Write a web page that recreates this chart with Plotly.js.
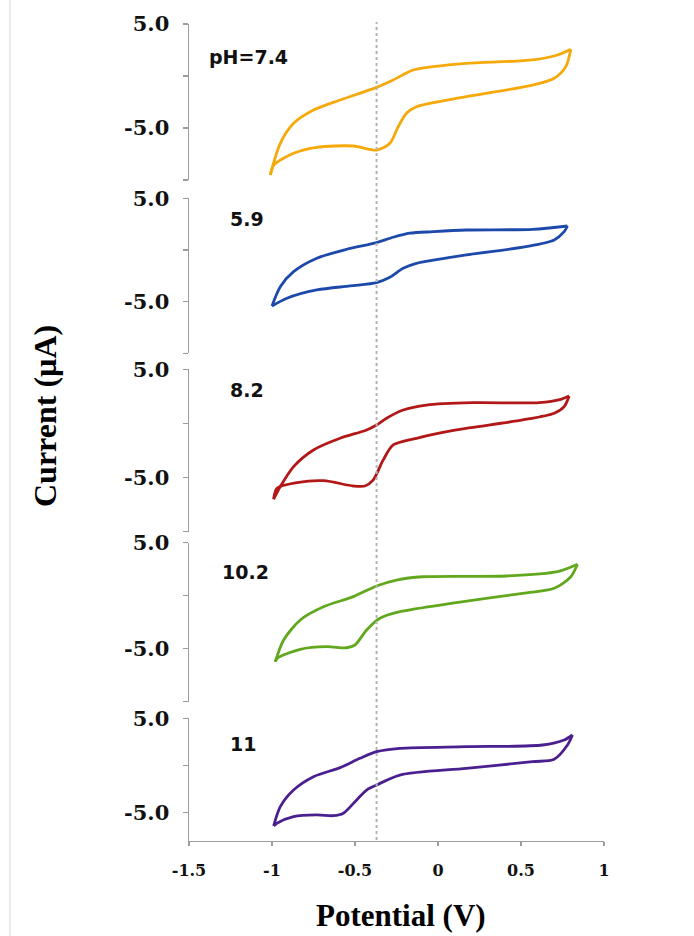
<!DOCTYPE html>
<html>
<head>
<meta charset="utf-8">
<script src="https://cdn.plot.ly/plotly-3.0.1.min.js"></script>
<style>html,body{margin:0;padding:0;background:#fff;}#chart{width:694px;height:936px;}</style>
</head>
<body>
<div id="chart"></div>
<script>
// ---- data (Potential in V, Current in µA) ----
const panelLabels = ["pH=7.4", "5.9", "8.2", "10.2", "11"];
const xTickVals = [-1.5, -1, -0.5, 0, 0.5, 1];
const xTickText = ["-1.5", "-1", "-0.5", "0", "0.5", "1"];
const yTickVals = [5, 0, -5, -10];
const yTickText = ["5.0", "", "-5.0", ""];
const markerPotential = -0.37;

// pH 7.4
const ph74_fwd_x = [-1.01, -0.95, -0.87, -0.75, -0.59, -0.37, -0.27, -0.15, -0.03, 0.17, 0.57, 0.72, 0.80];
const ph74_fwd_y = [-9.52, -6.47, -4.55, -3.27, -2.31, -1.09, -0.38, 0.58, 0.90, 1.22, 1.54, 2.02, 2.57];
const ph74_rev_x = [0.80, 0.77, 0.70, 0.57, 0.17, -0.13, -0.19, -0.24, -0.29, -0.37, -0.51, -0.73, -0.87, -0.99, -1.01];
const ph74_rev_y = [2.57, 0.90, -0.22, -0.87, -1.99, -2.95, -3.59, -4.88, -6.47, -7.12, -6.73, -6.86, -7.43, -8.56, -9.52];

// pH 5.9
const ph59_fwd_x = [-1.00, -0.95, -0.87, -0.73, -0.55, -0.37, -0.27, -0.17, -0.03, 0.17, 0.57, 0.78];
const ph59_fwd_y = [-5.42, -3.55, -2.10, -0.80, 0.07, 0.71, 1.23, 1.62, 1.77, 1.93, 2.00, 2.32];
const ph59_rev_x = [0.78, 0.76, 0.70, 0.53, 0.17, -0.13, -0.21, -0.29, -0.37, -0.53, -0.73, -0.91, -1.00];
const ph59_rev_y = [2.32, 1.77, 0.97, 0.32, -0.48, -1.29, -1.77, -2.64, -3.16, -3.48, -3.87, -4.67, -5.42];

// pH 8.2
const ph82_fwd_x = [-0.99, -0.95, -0.87, -0.75, -0.59, -0.43, -0.37, -0.31, -0.21, -0.07, 0.21, 0.61, 0.74, 0.79];
const ph82_fwd_y = [-7.00, -5.84, -3.99, -2.45, -1.37, -0.60, -0.14, 0.48, 1.24, 1.70, 1.92, 1.92, 2.23, 2.53];
const ph82_rev_x = [0.79, 0.76, 0.70, 0.51, 0.11, -0.13, -0.27, -0.33, -0.39, -0.44, -0.51, -0.69, -0.85, -0.97, -0.99];
const ph82_rev_y = [2.53, 1.55, 0.94, 0.32, -0.60, -1.37, -1.99, -3.37, -5.22, -5.78, -5.78, -5.29, -5.47, -5.99, -7.00];

// pH 10.2
const ph102_fwd_x = [-0.98, -0.93, -0.83, -0.69, -0.51, -0.37, -0.25, -0.09, 0.41, 0.72, 0.84];
const ph102_fwd_y = [-6.23, -4.18, -2.29, -1.04, -0.09, 0.92, 1.48, 1.79, 1.86, 2.26, 2.96];
const ph102_rev_x = [0.84, 0.80, 0.70, 0.51, 0.11, -0.23, -0.35, -0.43, -0.50, -0.55, -0.67, -0.83, -0.97, -0.98];
const ph102_rev_y = [2.96, 1.79, 0.70, 0.23, -0.66, -1.51, -2.13, -3.24, -4.65, -4.91, -4.81, -5.06, -5.91, -6.23];

// pH 11
const ph11_fwd_x = [-0.99, -0.95, -0.87, -0.75, -0.59, -0.47, -0.37, -0.23, 0.17, 0.63, 0.76, 0.81];
const ph11_fwd_y = [-6.41, -4.36, -2.60, -1.19, -0.23, 0.76, 1.46, 1.82, 1.99, 2.17, 2.70, 3.23];
const ph11_rev_x = [0.81, 0.78, 0.70, 0.57, 0.17, -0.23, -0.37, -0.43, -0.49, -0.57, -0.63, -0.73, -0.87, -0.97, -0.99];
const ph11_rev_y = [3.23, 2.17, 0.66, 0.40, -0.30, -1.01, -2.07, -2.60, -3.65, -5.06, -5.32, -5.24, -5.42, -6.12, -6.41];

const series = [
  {fx: ph74_fwd_x, fy: ph74_fwd_y, rx: ph74_rev_x, ry: ph74_rev_y, color: "#F5A90A"},
  {fx: ph59_fwd_x, fy: ph59_fwd_y, rx: ph59_rev_x, ry: ph59_rev_y, color: "#1D4AAA"},
  {fx: ph82_fwd_x, fy: ph82_fwd_y, rx: ph82_rev_x, ry: ph82_rev_y, color: "#B21818"},
  {fx: ph102_fwd_x, fy: ph102_fwd_y, rx: ph102_rev_x, ry: ph102_rev_y, color: "#62A81E"},
  {fx: ph11_fwd_x, fy: ph11_fwd_y, rx: ph11_rev_x, ry: ph11_rev_y, color: "#4A2090"}
];

// ---- layout geometry (pixels in 694x936 page) ----
const W = 694, H = 936;
const panelTopPx = [24, 198.3, 369.3, 542.7, 718.3];
const panelBotPx = [180, 353.3, 531.7, 701.7, 840.7];
const panelRanges = [[-10, 5], [-10, 5], [-10, 5], [-10, 5], [-7.97, 5]];
const labelPos = [[207, 57], [228, 219], [228, 390], [220, 572], [228, 744]];

const traces = [];
series.forEach((s, i) => {
  const ya = i === 0 ? "y" : "y" + (i + 1);
  [[s.fx, s.fy], [s.rx, s.ry]].forEach(([xx, yy]) => {
    traces.push({
      x: xx, y: yy, xaxis: "x", yaxis: ya, type: "scatter", mode: "lines",
      line: {color: s.color, width: 2.8, shape: "spline", smoothing: 0.8},
      hoverinfo: "skip", showlegend: false
    });
  });
});

const axisColor = "#9c9c9c";
const tickFont = {family: "DejaVu Serif", size: 21, color: "#111", weight: "bold"};

const layout = {
  width: W, height: H,
  margin: {l: 0, r: 0, t: 0, b: 0},
  paper_bgcolor: "#fff", plot_bgcolor: "rgba(0,0,0,0)",
  showlegend: false,
  xaxis: {
    domain: [189 / W, 604 / W], range: [-1.5, 1], anchor: "y5",
    tickvals: xTickVals, ticktext: xTickText,
    showline: true, linecolor: axisColor, linewidth: 1.5,
    ticks: "outside", ticklen: 4, tickcolor: axisColor, tickwidth: 1.5,
    showgrid: false, zeroline: false, fixedrange: true,
    tickfont: {family: "DejaVu Serif", size: 16, color: "#111", weight: "bold"},
    ticklabelstandoff: 11
  },
  annotations: [],
  shapes: [
    {type: "line", xref: "x", yref: "paper", x0: markerPotential, x1: markerPotential,
     y0: 1 - 840 / H, y1: 1 - 22 / H, line: {color: "#b4b4b4", width: 2, dash: "dot"}},
    {type: "line", xref: "paper", yref: "paper", x0: 10 / W, x1: 10 / W, y0: 0, y1: 1,
     line: {color: "#d6d6d6", width: 1}}
  ]
};

for (let i = 0; i < 5; i++) {
  const key = i === 0 ? "yaxis" : "yaxis" + (i + 1);
  const isLast = i === 4;
  layout[key] = {
    domain: [1 - panelBotPx[i] / H, 1 - panelTopPx[i] / H],
    range: panelRanges[i], anchor: "x",
    tickvals: isLast ? [5, 0, -5] : yTickVals,
    ticktext: isLast ? ["5.0", "", "-5.0"] : yTickText,
    showline: true, linecolor: axisColor, linewidth: 1.5,
    ticks: "outside", ticklen: 5, tickcolor: axisColor, tickwidth: 1.5,
    showgrid: false, zeroline: false, fixedrange: true,
    tickfont: tickFont, ticklabelstandoff: 9
  };
  layout.annotations.push({
    text: panelLabels[i], xref: "paper", yref: "paper",
    x: labelPos[i][0] / W, y: 1 - labelPos[i][1] / H,
    xanchor: "left", yanchor: "middle", showarrow: false,
    font: {family: "DejaVu Sans", size: 19, color: "#111", weight: "bold"}
  });
}

layout.annotations.push({
  text: "Potential (V)", xref: "paper", yref: "paper",
  x: 401 / W, y: 1 - 915 / H, xanchor: "center", yanchor: "middle", showarrow: false,
  font: {family: "Liberation Serif", size: 31, color: "#000", weight: "bold"}
});
layout.annotations.push({
  text: "Current (µA)", xref: "paper", yref: "paper",
  x: 45 / W, y: 1 - 416 / H, xanchor: "center", yanchor: "middle", showarrow: false,
  textangle: -90,
  font: {family: "Liberation Serif", size: 32, color: "#000", weight: "bold"}
});

Plotly.newPlot("chart", traces, layout, {staticPlot: true, displayModeBar: false});
</script>
</body>
</html>
